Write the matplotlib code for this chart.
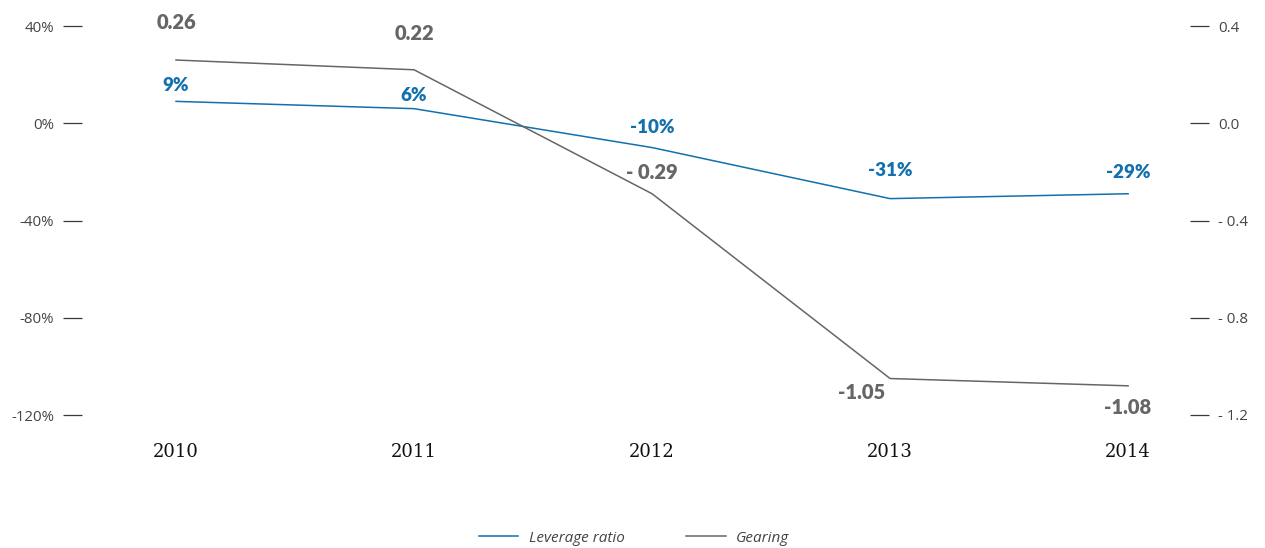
import numpy as np
import matplotlib.pyplot as plt

years = [2010, 2011, 2012, 2013, 2014]
leverage = [9, 6, -10, -31, -29]          # %
gearing = [0.26, 0.22, -0.29, -1.05, -1.08]
leverage_labels = ["9%", "6%", "-10%", "-31%", "-29%"]
gearing_labels = ["0.26", "0.22", "- 0.29", "-1.05", "-1.08"]
left_ticks = [40, 0, -40, -80, -120]
left_ticklabels = ["40%", "0%", "-40%", "-80%", "-120%"]
right_ticks = [0.4, 0.0, -0.4, -0.8, -1.2]
right_ticklabels = ["0.4", "0.0", "- 0.4", "- 0.8", "- 1.2"]

blue = "#1170ad"
grey = "#666666"
tickc = "#3a3a3a"

fig = plt.figure(figsize=(12.65, 5.48), dpi=100)
ax = fig.add_axes([82 / 1265, 1 - 415 / 548, (1190 - 82) / 1265, (415 - 26) / 548])
ax2 = ax.twinx()

ax.plot(years, leverage, color=blue, lw=1.1, label="Leverage ratio")
ax2.plot(years, gearing, color=grey, lw=1.1, label="Gearing")

ax.set_xlim(2009.605, 2014.26)
ax.set_ylim(-120, 40)
ax2.set_ylim(-1.2, 0.4)

for a in (ax, ax2):
    for s in a.spines.values():
        s.set_visible(False)

ax.set_yticks(left_ticks)
ax.set_yticklabels(left_ticklabels, fontfamily="Open Sans", fontsize=10.8, color="#444444")
ax.tick_params(axis="y", length=14, width=0.9, color=tickc, pad=6)
ax2.set_yticks(right_ticks)
ax2.set_yticklabels(right_ticklabels, fontfamily="Open Sans", fontsize=10.8, color="#444444")
ax2.tick_params(axis="y", length=14, width=0.9, color=tickc, pad=6)

ax.set_xticks(years)
ax.set_xticklabels([str(y) for y in years], fontfamily="DejaVu Serif", fontsize=13,
                   color="#111111")
ax.tick_params(axis="x", length=0, pad=20)

lev_off = [(0, 16), (0, 13), (0, 20), (0, 28), (0, 21)]
gear_off = [(0, 38), (0, 36), (0, 21), (-29, -14), (0, -22)]
for x, y, t, o in zip(years, leverage, leverage_labels, lev_off):
    ax.annotate(t, (x, y), xytext=o, textcoords="offset pixels", ha="center", va="center",
                fontfamily="Lato", fontweight="heavy", fontsize=13.5, color=blue,
                annotation_clip=False)
for x, y, t, o in zip(years, gearing, gearing_labels, gear_off):
    ax2.annotate(t, (x, y), xytext=o, textcoords="offset pixels", ha="center", va="center",
                 fontfamily="Lato", fontweight="heavy", fontsize=14.5, color=grey,
                 annotation_clip=False)

h1, l1 = ax.get_legend_handles_labels()
h2, l2 = ax2.get_legend_handles_labels()
leg = fig.legend(h1 + h2, l1 + l2, loc="center", bbox_to_anchor=(634 / 1265, 1 - 538 / 548),
                 ncol=2, frameon=False, handlelength=2.6, handletextpad=0.7, columnspacing=4,
                 prop={"family": "Open Sans", "style": "italic", "size": 11})
for t in leg.get_texts():
    t.set_color("#444444")

fig.savefig("out.png", dpi=100)
